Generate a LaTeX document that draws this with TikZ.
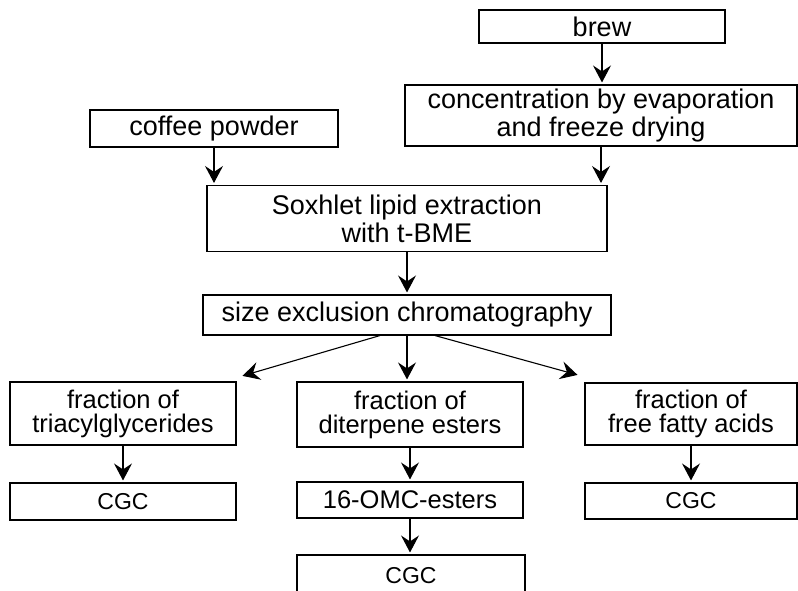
\documentclass[tikz,border=0pt]{standalone}
\usepackage{fontspec}
\setmainfont{Liberation Sans}
\usetikzlibrary{arrows.meta}

\begin{document}
\begin{tikzpicture}[
        x=1pt,y=-1pt,
        box/.style={draw,line width=1.1pt,inner sep=0pt,align=center,font=\fontsize{27}{28}\selectfont},
        frac/.style={box,font=\fontsize{25.5}{24}\selectfont},
        small/.style={box,font=\fontsize{23}{24}\selectfont},
        flow/.style={-{Stealth[length=17pt,width=18pt,inset=6pt]},line width=1.1pt,shorten >=2pt}
    ]
        \useasboundingbox (0,0) rectangle (798,591);

        % Define the nodes
        \node[box,minimum width=246,minimum height=33] (brew) at (602,26.5) {brew};
        \node[box,minimum width=392,minimum height=61] (conc) at (601,115.5) {concentration by evaporation\\and freeze drying};
        \node[box,minimum width=248,minimum height=37] (powder) at (214,128.5) {coffee powder};
        \node[box,minimum width=400,minimum height=66] (soxhlet) at (407,218.5) {Soxhlet lipid extraction\\with t-BME};
        \node[box,minimum width=408,minimum height=40] (sec) at (407,315) {size exclusion chromatography};

        \node[frac,minimum width=226,minimum height=63] (tag) at (123,413.5) {fraction of\\triacylglycerides};
        \node[frac,minimum width=226,minimum height=65] (dte) at (410,414.5) {fraction of\\diterpene esters};
        \node[frac,minimum width=212,minimum height=62] (ffa) at (691,414) {fraction of\\free fatty acids};

        \node[small,minimum width=226,minimum height=37] (cgcA) at (123,501.5) {CGC};
        \node[small,minimum width=226,minimum height=36,font=\fontsize{25.5}{26}\selectfont] (omc) at (410,500) {16-OMC-esters};
        \node[small,minimum width=228,minimum height=42] (cgcB) at (411,576) {CGC};
        \node[small,minimum width=212,minimum height=36] (cgcC) at (691,501) {CGC};

        % Draw the sample preparation
        \draw[flow] (brew.south) -- (brew.south |- conc.north);
        \draw[flow] (conc.south) -- (conc.south |- soxhlet.north);
        \draw[flow] (powder.south) -- (powder.south |- soxhlet.north);
        \draw[flow] (soxhlet.south) -- (soxhlet.south |- sec.north);

        % Draw the three fractions
        \draw[flow] ([xshift=-27pt]sec.south) -- ([xshift=4pt,yshift=5pt]tag.north east);
        \draw[flow] (sec.south) -- (sec.south |- dte.north);
        \draw[flow] ([xshift=28pt]sec.south) -- ([xshift=-5pt,yshift=7pt]ffa.north west);

        % Draw the analysis steps
        \draw[flow] (tag.south) -- (tag.south |- cgcA.north);
        \draw[flow] (dte.south) -- (dte.south |- omc.north);
        \draw[flow] (omc.south) -- (omc.south |- cgcB.north);
        \draw[flow] (ffa.south) -- (ffa.south |- cgcC.north);
    \end{tikzpicture}
\end{document}
